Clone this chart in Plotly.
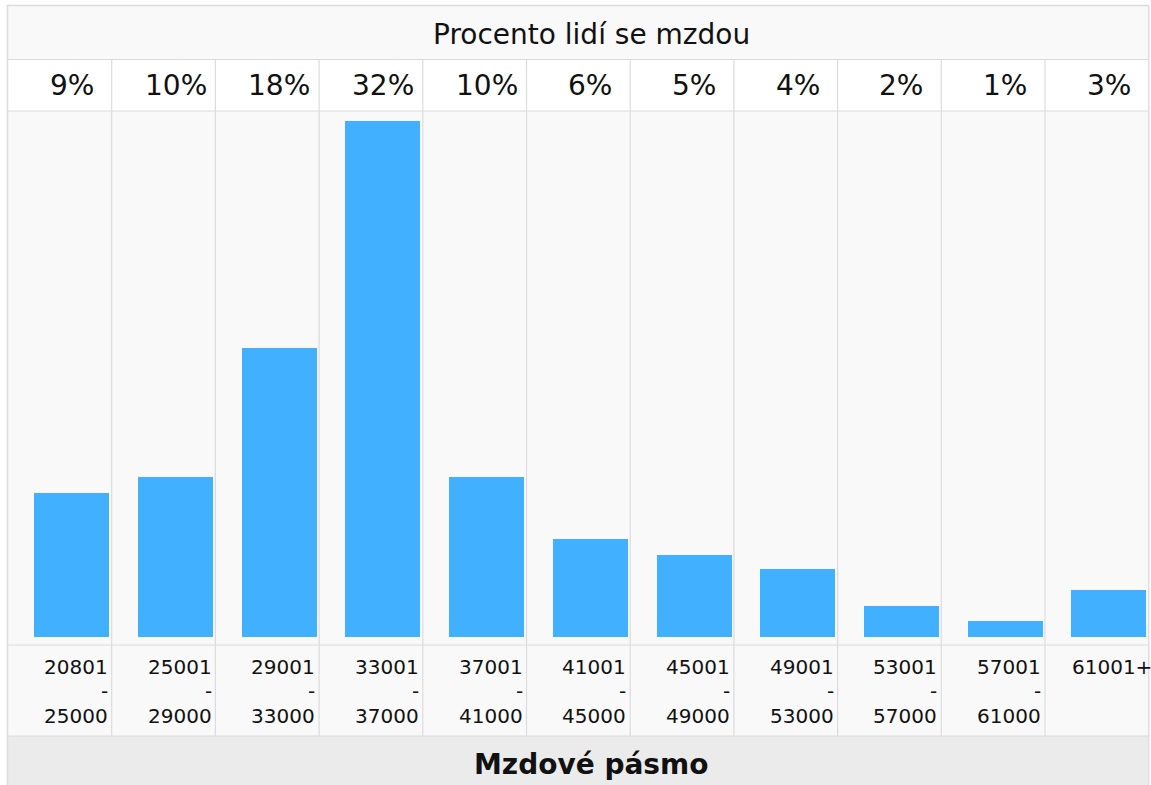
import plotly.graph_objects as go

# ---- data ----
categories = [
    "20801\n-\n25000", "25001\n-\n29000", "29001\n-\n33000", "33001\n-\n37000",
    "37001\n-\n41000", "41001\n-\n45000", "45001\n-\n49000", "49001\n-\n53000",
    "53001\n-\n57000", "57001\n-\n61000", "61001+",
]
shares = [8.9, 9.9, 17.9, 32.0, 9.9, 6.1, 5.1, 4.2, 1.9, 1.0, 2.9]
pct_labels = [f"{round(v)}%" for v in shares]
title_text = "Procento lidí se mzdou"
axis_title = "Mzdové pásmo"

# ---- layout helpers (pixel -> paper) ----
W, H = 1151, 785
def px(x):
    return x / W
def py(y):
    return 1 - y / H

FONT = "DejaVu Sans"
GRID = "#dcdcdc"
BAR = "#40b0ff"
n = len(shares)
xs = list(range(n))

LEFT, RIGHT = 8, 1148.7
TITLE_TOP, ROW1, PLOT_TOP, PLOT_BOT, LAB_BOT = 6, 59.5, 111, 645, 736

BAR_OFFSET = -0.246
BAR_WIDTH = 0.723

fig = go.Figure()
fig.add_trace(go.Bar(
    x=xs, y=shares, width=BAR_WIDTH, offset=BAR_OFFSET,
    marker=dict(color=BAR, line=dict(width=0)),
    hoverinfo="skip", showlegend=False,
))

shapes = []
def prect(x0, y0, x1, y1, fill):
    shapes.append(dict(type="rect", xref="paper", yref="paper",
                       x0=px(x0), x1=px(x1), y0=py(y0), y1=py(y1),
                       fillcolor=fill, line=dict(width=0), layer="below"))
def pline(x0, y0, x1, y1, color=GRID, w=1.2):
    shapes.append(dict(type="line", xref="paper", yref="paper",
                       x0=px(x0), x1=px(x1), y0=py(y0), y1=py(y1),
                       line=dict(color=color, width=w), layer="above"))

# row backgrounds
prect(LEFT, TITLE_TOP, RIGHT, ROW1, "#f9f9f9")
prect(LEFT, ROW1, RIGHT, PLOT_TOP, "#ffffff")
prect(LEFT, PLOT_BOT, RIGHT, LAB_BOT, "#f9f9f9")
prect(LEFT, LAB_BOT, RIGHT, H + 5, "#ebebeb")

# horizontal separators
for yy in (ROW1, PLOT_TOP, PLOT_BOT, LAB_BOT):
    pline(LEFT, yy, RIGHT, yy)
# outer frame
pline(7.5, 5.5, 7.5, H + 5, w=1.6)
pline(7, 5.5, RIGHT, 5.5, w=1.4)
pline(RIGHT, 5.5, RIGHT, H + 5, w=1.4)

# column separators through the x axis
for i in range(1, n):
    shapes.append(dict(type="line", xref="x", yref="paper",
                       x0=i - 0.5, x1=i - 0.5, y0=py(LAB_BOT), y1=py(ROW1),
                       line=dict(color=GRID, width=1.2), layer="below"))

annotations = []
# title
annotations.append(dict(text=title_text, xref="paper", yref="paper",
                        x=px(591), y=py(34.5), xanchor="center", yanchor="middle",
                        showarrow=False, borderpad=0,
                        font=dict(family=FONT, size=28, color="#111111")))
# footer title
annotations.append(dict(text=f"<b>{axis_title}</b>", xref="paper", yref="paper",
                        x=px(591), y=py(764), xanchor="center", yanchor="middle",
                        showarrow=False, borderpad=0,
                        font=dict(family=FONT, size=28, color="#111111")))
# percentage labels above the columns
for i, lab in enumerate(pct_labels):
    annotations.append(dict(text=lab, xref="x", yref="paper",
                            x=i + BAR_OFFSET + BAR_WIDTH / 2, y=py(86),
                            xanchor="center", yanchor="middle",
                            showarrow=False, borderpad=0,
                            font=dict(family=FONT, size=28, color="#111111")))
# category labels
line_y = [666.5, 691, 715.5]
for i, lab in enumerate(categories):
    parts = lab.split("\n")
    for k, part in enumerate(parts):
        if len(parts) == 1:
            xa, xv = "left", i + BAR_OFFSET
        else:
            xa, xv = "right", i + BAR_OFFSET + BAR_WIDTH - 0.005
        annotations.append(dict(text=part, xref="x", yref="paper",
                                x=xv, y=py(line_y[k]),
                                xanchor=xa, yanchor="middle",
                                showarrow=False, borderpad=0,
                                font=dict(family=FONT, size=20, color="#111111")))

ylo = -8 / 16.125
yhi = ylo + (PLOT_BOT - PLOT_TOP) / 16.125

fig.update_layout(
    width=W, height=H,
    margin=dict(l=0, r=0, t=0, b=0),
    paper_bgcolor="#ffffff",
    plot_bgcolor="#f9f9f9",
    font=dict(family=FONT),
    xaxis=dict(domain=[px(LEFT), px(RIGHT)], range=[-0.5, n - 0.5],
               showgrid=False, zeroline=False, showticklabels=False,
               ticks="", showline=False, fixedrange=True),
    yaxis=dict(domain=[py(PLOT_BOT), py(PLOT_TOP)], range=[ylo, yhi],
               showgrid=False, zeroline=False, showticklabels=False,
               ticks="", showline=False, fixedrange=True),
    shapes=shapes,
    annotations=annotations,
    bargap=0,
)

fig.write_html("out.html", config={"displayModeBar": False},
               post_script="document.body.style.margin='0';document.body.style.overflow='hidden';")
